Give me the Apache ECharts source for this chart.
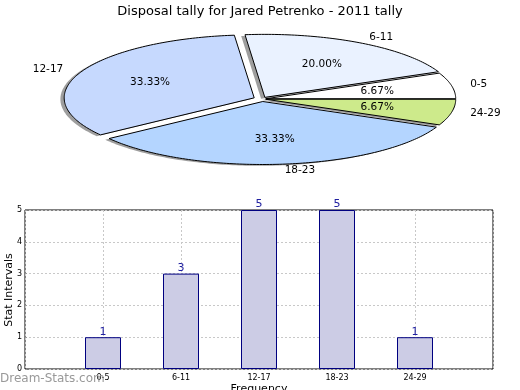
<!DOCTYPE html>
<html><head><meta charset="utf-8">
<script src="https://cdn.jsdelivr.net/npm/echarts@6/dist/echarts.min.js"></script>
<style>html,body{margin:0;padding:0;background:#fff}#c{width:520px;height:390px}</style>
</head><body><div id="c"></div>
<script>
const titleText = 'Disposal tally for Jared Petrenko - 2011 tally';
const yAxisTitle = 'Stat Intervals';
const xAxisTitle = 'Frequency';
const categories = ['0-5', '6-11', '12-17', '18-23', '24-29'];
const values = [1, 3, 5, 5, 1];
const yTicks = [0, 1, 2, 3, 4, 5];
const sliceColors = ['#ffffff', '#eaf2ff', '#c6d9fe', '#b4d5ff', '#cdea8b'];
const explode = [0.02, 0.03, 0.045, 0.04, 0.02];

const FONT = 'DejaVu Sans';
const total = values.reduce((a, b) => a + b, 0);
const PIE = { cx: 262, cy: 99, rx: 190, ry: 63 };

function renderSlice(params, api) {
  const i = params.dataIndex;
  let start = 0;
  for (let k = 0; k < i; k++) start += values[k] / total * 360;
  const v = api.value(0);
  const sweep = v / total * 360;
  const mid = (start + sweep / 2) * Math.PI / 180;
  const cx = PIE.cx + explode[i] * PIE.rx * Math.cos(mid);
  const cy = PIE.cy - explode[i] * PIE.ry * Math.sin(mid);
  const pts = [[cx, cy]];
  const n = Math.max(12, Math.ceil(sweep));
  for (let k = 0; k <= n; k++) {
    const a = (start + sweep * k / n) * Math.PI / 180;
    pts.push([cx + PIE.rx * Math.cos(a), cy - PIE.ry * Math.sin(a)]);
  }
  const shadowPts = pts.map(p => [p[0] - 3.8, p[1] + 1.3]);
  const pct = (v / total * 100).toFixed(2) + '%';
  const lx = cx + 1.1 * PIE.rx * Math.cos(mid);
  const ly = cy - 1.1 * PIE.ry * Math.sin(mid);
  const px = cx + 0.6 * PIE.rx * Math.cos(mid);
  const py = cy - 0.6 * PIE.ry * Math.sin(mid);
  return {
    type: 'group',
    children: [
      { type: 'polygon', z2: 1, shape: { points: shadowPts }, style: { fill: 'rgba(40,40,40,0.45)', stroke: null } },
      { type: 'polygon', z2: 10, shape: { points: pts }, style: { fill: sliceColors[i], stroke: '#000', lineWidth: 1 } },
      { type: 'text', z2: 20, x: lx, y: ly, style: { text: categories[i], fill: '#000', font: '10.5px "' + FONT + '"', align: Math.cos(mid) >= 0 ? 'left' : 'right', verticalAlign: 'middle' } },
      { type: 'text', z2: 20, x: px, y: py, style: { text: pct, fill: '#000', font: '10.5px "' + FONT + '"', align: 'center', verticalAlign: 'middle' } }
    ]
  };
}

const chart = echarts.init(document.getElementById('c'), null, { renderer: 'canvas' });
chart.setOption({
  animation: false,
  backgroundColor: '#fff',
  textStyle: { fontFamily: FONT },
  title: { text: titleText, left: 'center', top: 0, textStyle: { fontSize: 13, fontWeight: 'normal', color: '#000', fontFamily: FONT } },
  grid: { left: 25, right: 27, top: 210, bottom: 21, show: true, borderColor: '#000', borderWidth: 1, containLabel: false, outerBoundsMode: 'none' },
  xAxis: {
    type: 'value', min: 0, max: 6, interval: 1,
    name: xAxisTitle, nameLocation: 'middle', nameGap: 15,
    nameTextStyle: { fontSize: 11, color: '#000', fontFamily: FONT },
    axisLine: { show: false }, axisTick: { show: false },
    axisLabel: { fontSize: 8, color: '#000', margin: 5, fontFamily: FONT, formatter: v => (v >= 1 && v <= categories.length) ? categories[v - 1] : '' },
    splitLine: { show: true, lineStyle: { color: '#c8c8c8', type: [2, 2], width: 1 } }
  },
  yAxis: {
    type: 'value', min: yTicks[0], max: yTicks[yTicks.length - 1], interval: 1,
    axisLine: { show: false },
    axisTick: { show: true, inside: true, length: 2, lineStyle: { color: '#999' } },
    axisLabel: { fontSize: 8, color: '#000', margin: 3, fontFamily: FONT },
    splitLine: { show: true, lineStyle: { color: '#c8c8c8', type: [2, 2], width: 1 } }
  },
  graphic: [
    { type: 'text', x: 9, y: 290, rotation: Math.PI / 2, z: 100, style: { text: yAxisTitle, fill: '#000', font: '11px "' + FONT + '"', align: 'center', verticalAlign: 'middle' } },
    { type: 'text', left: 0, top: 373, z: 100, style: { text: 'Dream-Stats.com', fill: '#999', font: '12px "' + FONT + '"' } }
  ],
  series: [
    {
      type: 'custom', coordinateSystem: 'none', silent: true,
      data: values.map(v => [v]),
      renderItem: renderSlice
    },
    {
      type: 'bar', barWidth: 36,
      data: values.map((v, i) => [i + 1, v]),
      itemStyle: { color: '#cccce5', borderColor: '#000080', borderWidth: 1 },
      label: { show: true, position: 'top', distance: 0, color: '#2020a0', fontSize: 11, fontFamily: FONT }
    }
  ]
});
</script>
</body></html>
